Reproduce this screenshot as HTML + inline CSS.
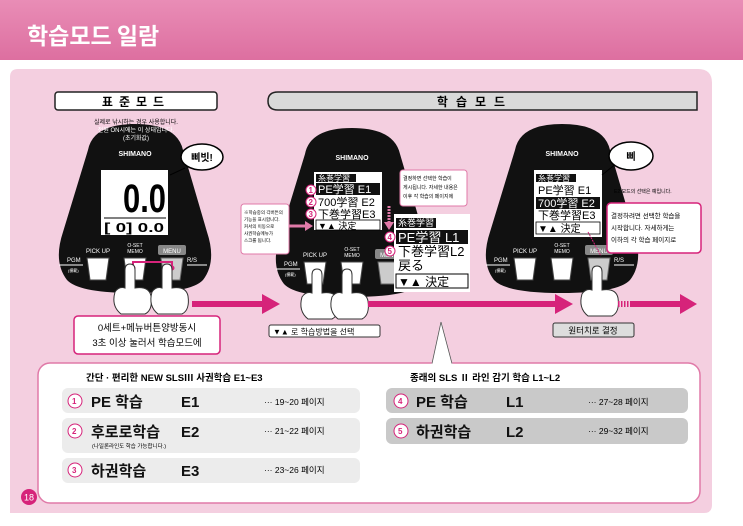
<!DOCTYPE html>
<html><head><meta charset="utf-8">
<style>
html,body{margin:0;padding:0;background:#fff}
body{width:743px;height:526px;overflow:hidden;position:relative;font-family:"Liberation Sans","Noto Sans CJK KR",sans-serif}
.hdr{position:absolute;left:0;top:0;width:743px;height:60px;background:linear-gradient(#e98db6,#dd6fa0)}
.hdr span{position:absolute;left:27px;top:17px;color:#fff;font-size:23px;font-weight:bold;font-family:"Noto Sans CJK KR",sans-serif}
svg{position:absolute;left:0;top:0}
text{font-family:"Liberation Sans","Noto Sans CJK KR",sans-serif}
</style></head><body>
<div class="hdr"><span>학습모드 일람</span></div>
<svg width="743" height="526" viewBox="0 0 743 526">
<defs>
<g id="dev">
<path d="M-47 150 Q-42 124 0 124 Q42 124 48 150 L72 232 Q82 262 68 280 Q56 293 0 293 Q-56 293 -68 280 Q-82 262 -72 232 Z" fill="#111"/>
<text x="0" y="156" font-size="7" fill="#fff" text-anchor="middle" font-weight="bold">SHIMANO</text>
<text x="-37" y="253" font-size="6" fill="#fff" text-anchor="middle">PICK UP</text>
<text x="0" y="247" font-size="5" fill="#fff" text-anchor="middle">O-SET</text>
<text x="0" y="253" font-size="5" fill="#fff" text-anchor="middle">MEMO</text>
<rect x="23" y="245" width="28" height="10" rx="2" fill="#888"/>
<text x="37" y="253" font-size="6" fill="#fff" text-anchor="middle">MENU</text>
<text x="-68" y="262" font-size="6" fill="#fff">PGM</text>
<text x="-67" y="272" font-size="4" fill="#fff">(模範)</text>
<text x="52" y="262" font-size="6" fill="#fff">R/S</text>
<line x1="-76" y1="265" x2="-52" y2="265" stroke="#fff" stroke-width="1"/>
<line x1="52" y1="265" x2="72" y2="265" stroke="#fff" stroke-width="1"/>
<path d="M-48 258 h22 l-3 22 h-16 z" fill="#fff" stroke="#444"/>
<path d="M-11 258 h22 l-3 22 h-16 z" fill="#fff" stroke="#444"/>
<path d="M26 258 h22 l-3 22 h-16 z" fill="#ccc" stroke="#666"/>
</g>
<g id="hand">
<path d="M-10 0 Q-10 -6 -5 -6 Q0 -6 0 0 L0 18 Q14 16 16 26 Q18 40 10 44 L-14 44 Q-24 36 -20 22 Q-16 16 -10 18 Z" fill="#fff" stroke="#333" stroke-width="1"/>
</g>
</defs>
<path d="M18 69 H698 Q712 69 712 83 V505 Q712 513 704 513 H10 V77 Q10 69 18 69 Z" fill="#f4cfe0"/>
<rect x="55" y="92" width="162" height="18" rx="3" fill="#fff" stroke="#222" stroke-width="1.5"/>
<text x="136" y="106" font-size="12" font-weight="bold" text-anchor="middle" letter-spacing="6">표준모드</text>
<path d="M278 92 H697 V110 H278 Q268 110 268 101 Q268 92 278 92 Z" fill="#d9d9d9" stroke="#222" stroke-width="1.5"/>
<text x="475" y="106" font-size="12" font-weight="bold" text-anchor="middle" letter-spacing="8">학습모드</text>
<use href="#dev" x="135" y="0"/>
<use href="#dev" x="352" y="4"/>
<use href="#dev" x="562" y="0"/>
<text x="136" y="124" font-size="6" text-anchor="middle">실제로 낚시하는 경우 사용합니다.</text>
<text x="136" y="132" font-size="6" text-anchor="middle" fill="#fff">전원 ON시에는 이 상태입니다.</text>
<text x="136" y="140" font-size="6" text-anchor="middle" fill="#fff">(초기화값)</text>
<rect x="101" y="170" width="67" height="65" fill="#fff"/>
<text x="123" y="212" font-size="40" font-weight="bold" textLength="43" lengthAdjust="spacingAndGlyphs" font-family="Liberation Sans Narrow, Liberation Sans">0.0</text>
<line x1="104" y1="218" x2="166" y2="218" stroke="#000"/>
<text x="104" y="232" font-size="13" font-weight="bold" textLength="60" lengthAdjust="spacingAndGlyphs">[ 0] 0.0</text>
<path d="M170 175 L185 168" stroke="#000"/>
<ellipse cx="202" cy="157" rx="21" ry="13" fill="#fff" stroke="#000" stroke-width="1.5"/>
<text x="202" y="161" font-size="10" font-weight="bold" text-anchor="middle">삐빗!</text>
<path d="M133 268 V262 H172 V268" stroke="#d6237a" stroke-width="2" fill="none"/>
<circle cx="133" cy="268" r="2.5" fill="#d6237a"/><circle cx="172" cy="268" r="2.5" fill="#d6237a"/>
<use href="#hand" x="135" y="270"/><use href="#hand" x="172" y="270"/>
<rect x="314" y="172" width="68" height="58" fill="#fff"/>
<rect x="316" y="174" width="40" height="8" fill="#111"/><text x="318" y="181" font-size="8" fill="#fff">糸巻学習</text>
<rect x="316" y="183" width="64" height="12" fill="#111"/><text x="318" y="193" font-size="11" fill="#fff">PE学習 E1</text>
<text x="318" y="206" font-size="11">700学習 E2</text>
<text x="318" y="218" font-size="11">下巻学習E3</text>
<rect x="316" y="220" width="64" height="10" fill="#fff" stroke="#000" stroke-width="0.8"/>
<text x="318" y="229" font-size="9">▼▲ 決定</text>
<g font-size="8" font-weight="bold" fill="#d6237a">
<circle cx="311" cy="190" r="5" fill="#fff" stroke="#d6237a"/><text x="308.5" y="193">1</text>
<circle cx="311" cy="202" r="5" fill="#fff" stroke="#d6237a"/><text x="308.5" y="205">2</text>
<circle cx="311" cy="214" r="5" fill="#fff" stroke="#d6237a"/><text x="308.5" y="217">3</text>
</g>
<rect x="241" y="204" width="48" height="50" rx="3" fill="#fff" stroke="#e07aa8"/>
<g font-size="4.5"><text x="244" y="214">※학습중의 각버튼의</text><text x="244" y="221">기능을 표시합니다.</text><text x="244" y="228">커서의 이동으로</text><text x="244" y="235">사권학습메뉴가</text><text x="244" y="242">스크롤 됩니다.</text></g>
<path d="M289 226 L307 226" stroke="#e07aa8" stroke-width="3"/><path d="M305 221 L313 226 L305 231Z" fill="#e07aa8"/>
<use href="#hand" x="322" y="275"/><use href="#hand" x="352" y="275"/>
<rect x="394" y="214" width="76" height="78" fill="#fff"/>
<rect x="396" y="218" width="40" height="10" fill="#111"/><text x="398" y="226" font-size="9" fill="#fff">糸巻学習</text>
<rect x="396" y="230" width="72" height="14" fill="#111"/><text x="398" y="242" font-size="13" fill="#fff">PE学習 L1</text>
<text x="398" y="256" font-size="13">下巻学習L2</text>
<text x="398" y="270" font-size="13">戻る</text>
<rect x="396" y="274" width="72" height="14" fill="#fff" stroke="#000"/>
<text x="398" y="286" font-size="12">▼▲ 決定</text>
<g font-size="8" font-weight="bold" fill="#d6237a">
<circle cx="390" cy="237" r="5" fill="#fff" stroke="#d6237a"/><text x="387.5" y="240">4</text>
<circle cx="390" cy="251" r="5" fill="#fff" stroke="#d6237a"/><text x="387.5" y="254">5</text>
</g>
<rect x="400" y="170" width="67" height="36" rx="3" fill="#fff" stroke="#e07aa8"/>
<g font-size="5"><text x="403" y="180">결정하면 선택한 학습이</text><text x="403" y="189">게시됩니다. 자세한 내용은</text><text x="403" y="198">이후 각 학습의 페이지에</text></g>
<path d="M389 206 V223" stroke="#e07aa8" stroke-width="3" stroke-dasharray="2,1"/><path d="M384 222 L389 230 L394 222Z" fill="#e07aa8"/>
<rect x="534" y="170" width="68" height="67" fill="#fff"/>
<rect x="536" y="174" width="40" height="8" fill="#111"/><text x="538" y="181" font-size="8" fill="#fff">糸巻学習</text>
<text x="538" y="194" font-size="11">PE学習 E1</text>
<rect x="536" y="197" width="64" height="12" fill="#111"/><text x="538" y="207" font-size="11" fill="#fff">700学習 E2</text>
<text x="538" y="219" font-size="11">下巻学習E3</text>
<rect x="536" y="222" width="64" height="12" fill="#fff" stroke="#000" stroke-width="0.8"/>
<text x="538" y="232" font-size="10">▼▲ 決定</text>
<path d="M602 175 L617 163" stroke="#000"/>
<ellipse cx="631" cy="156" rx="22" ry="14" fill="#fff" stroke="#000" stroke-width="1.5"/>
<text x="631" y="160" font-size="10" font-weight="bold" text-anchor="middle">삐</text>
<text x="614" y="193" font-size="5">E2 모드의 선택은 예입니다.</text>
<rect x="607" y="203" width="94" height="50" rx="4" fill="#fff" stroke="#d6237a" stroke-width="1.5"/>
<g font-size="6.5"><text x="611" y="218">결정하려면 선택한 학습을</text><text x="611" y="230">시작합니다. 자세하게는</text><text x="611" y="242">이하의 각 학습 페이지로</text></g>
<path d="M588 232 L601 256" stroke="#d6237a" stroke-dasharray="2,1"/>
<use href="#hand" x="602" y="272"/>
<rect x="192" y="301" width="72" height="6" fill="#d6237a"/><path d="M262 294 L280 304 L262 314Z" fill="#d6237a"/>
<rect x="368" y="301" width="188" height="6" fill="#d6237a"/><path d="M555 294 L573 304 L555 314Z" fill="#d6237a"/>
<g fill="#d6237a"><rect x="618" y="301" width="1.5" height="6"/><rect x="621" y="301" width="1.5" height="6"/><rect x="624" y="301" width="1.5" height="6"/><rect x="627" y="301" width="1.5" height="6"/></g>
<rect x="630" y="301" width="52" height="6" fill="#d6237a"/><path d="M680 294 L697 304 L680 314Z" fill="#d6237a"/>
<rect x="74" y="316" width="146" height="38" rx="4" fill="#fff" stroke="#d6237a" stroke-width="1.5"/>
<text x="147" y="331" font-size="9.5" text-anchor="middle">0세트+메뉴버튼양방동시</text>
<text x="147" y="346" font-size="9.5" text-anchor="middle">3초 이상 눌러서 학습모드에</text>
<rect x="269" y="325" width="111" height="12" rx="2" fill="#fff" stroke="#333"/>
<text x="273" y="334.5" font-size="8">▼▲ 로 학습방법을 선택</text>
<rect x="553" y="323" width="81" height="14" rx="2" fill="#ddd" stroke="#333"/>
<text x="593" y="333.5" font-size="8.5" text-anchor="middle">원터치로 결정</text>
<rect x="38" y="363" width="662" height="140" rx="12" fill="#fff" stroke="#e07aa8" stroke-width="1.5"/>
<path d="M432 364 L441 322 L452 364" fill="#fff" stroke="#fff"/>
<path d="M432 363.5 L441 322 M441 322 L452 363.5" stroke="#555" stroke-width="0.8" fill="none"/>
<text x="86" y="381" font-size="9.5" font-weight="bold">간단 · 편리한 NEW SLSⅢ 사권학습  E1~E3</text>
<text x="410" y="381" font-size="9.5" font-weight="bold">종래의 SLS Ⅱ 라인 감기 학습 L1~L2</text>
<rect x="62" y="388" width="298" height="25" rx="6" fill="#ececec"/>
<rect x="62" y="418" width="298" height="35" rx="6" fill="#ececec"/>
<rect x="62" y="458" width="298" height="25" rx="6" fill="#ececec"/>
<rect x="386" y="388" width="302" height="25" rx="6" fill="#c9c9c9"/>
<rect x="386" y="418" width="302" height="26" rx="6" fill="#c9c9c9"/>
<g font-size="8" font-weight="bold" fill="#d6237a">
<circle cx="75" cy="401" r="7" fill="#fff" stroke="#d6237a"/><text x="72" y="404">1</text>
<circle cx="75" cy="431" r="7" fill="#fff" stroke="#d6237a"/><text x="72" y="434">2</text>
<circle cx="75" cy="470" r="7" fill="#fff" stroke="#d6237a"/><text x="72" y="473">3</text>
<circle cx="401" cy="401" r="7" fill="#fff" stroke="#d6237a"/><text x="398" y="404">4</text>
<circle cx="401" cy="431" r="7" fill="#fff" stroke="#d6237a"/><text x="398" y="434">5</text>
</g>
<g font-size="15" font-weight="bold" fill="#111">
<text x="91" y="407">PE 학습</text><text x="181" y="407">E1</text>
<text x="91" y="437">후로로학습</text><text x="181" y="437">E2</text>
<text x="91" y="476">하권학습</text><text x="181" y="476">E3</text>
<text x="416" y="407">PE 학습</text><text x="506" y="407">L1</text>
<text x="416" y="437">하권학습</text><text x="506" y="437">L2</text>
</g>
<text x="92" y="448" font-size="5.5">(나일론라인도 학습 가능합니다.)</text>
<g font-size="8.5">
<text x="264" y="405">···  19~20 페이지</text>
<text x="264" y="434">···  21~22 페이지</text>
<text x="264" y="473">···  23~26 페이지</text>
<text x="588" y="405">···  27~28 페이지</text>
<text x="588" y="434">···  29~32 페이지</text>
</g>
<circle cx="29" cy="497" r="8" fill="#d6237a"/>
<text x="29" y="500.5" font-size="9" fill="#fff" text-anchor="middle" font-family="Liberation Serif">18</text>
</svg>
</body></html>
